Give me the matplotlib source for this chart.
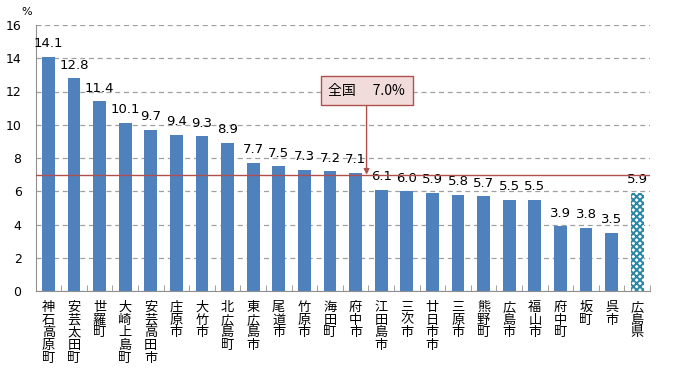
import matplotlib
matplotlib.use("Agg")
import matplotlib.pyplot as plt
import numpy as np

categories = ["神石高原町", "安芸太田町", "世羅町", "大崎上島町", "安芸高田市", "庄原市", "大竹市",
              "北広島町", "東広島市", "尾道市", "竹原市", "海田町", "府中市", "江田島市", "三次市",
              "廿日市市", "三原市", "熊野町", "広島市", "福山市", "府中町", "坂町", "呉市", "広島県"]
values = [14.1, 12.8, 11.4, 10.1, 9.7, 9.4, 9.3, 8.9, 7.7, 7.5, 7.3, 7.2, 7.1, 6.1, 6.0,
          5.9, 5.8, 5.7, 5.5, 5.5, 3.9, 3.8, 3.5, 5.9]
national = 7.0
national_label = "全国　 7.0%"
yticks = [0, 2, 4, 6, 8, 10, 12, 14, 16]

plt.rcParams['font.family'] = ['Noto Sans CJK JP', 'DejaVu Sans']
plt.rcParams['hatch.linewidth'] = 1.4

fig = plt.figure(figsize=(6.81, 3.72), dpi=100)
ax = fig.add_axes([35.5 / 681, 1 - 291 / 372, (650 - 35.5) / 681, (291 - 25) / 372])

x = np.arange(len(categories))
colors = ['#4f81bd'] * (len(values) - 1) + ['white']
bars = ax.bar(x, values, width=0.5, color=colors, zorder=3)
bars[-1].set_hatch('xxxxx')
bars[-1].set_edgecolor('#2a86a8')
bars[-1].set_linewidth(0)

for xi, v in zip(x, values):
    ax.text(xi, v + 0.4, f"{v:.1f}", ha='center', va='bottom', fontsize=9.5, family='DejaVu Sans', zorder=4)

ax.set_xlim(-0.5, len(categories) - 0.5)
ax.set_ylim(0, 16)
ax.set_yticks(yticks)
ax.set_yticklabels([str(t) for t in yticks], fontsize=9, family='DejaVu Sans')
ax.tick_params(axis='y', length=0, pad=10)
ax.yaxis.grid(True, linestyle=(0, (4, 3)), color='#a0a0a0', linewidth=0.9, zorder=0)
ax.set_axisbelow(True)

ax.set_xticks(x)
ax.set_xticklabels(['\n'.join(c) for c in categories], fontsize=9.5, va='top', linespacing=0.98)
ax.tick_params(axis='x', length=0, pad=7)
ax.set_xticks(np.arange(-0.5, len(categories) + 0.5, 1), minor=True)
ax.tick_params(axis='x', which='minor', direction='in', length=4, color='#909090')

for s in ['top', 'right']:
    ax.spines[s].set_visible(False)
for s in ['left', 'bottom']:
    ax.spines[s].set_color('#909090')

ax.axhline(national, color='#b0504d', linewidth=1.0, zorder=5)

ax.annotate(national_label, xy=(12.43, national), xytext=(12.43, 12.06),
            ha='center', va='center', fontsize=10,
            bbox=dict(boxstyle='square,pad=0.55', fc='#f2dcdb', ec='#b0504d', lw=1.0),
            arrowprops=dict(arrowstyle='-|>', color='#b0504d', lw=1.0, shrinkA=0, shrinkB=0,
                            mutation_scale=8),
            zorder=6)

fig.text(27 / 681, 1 - 12 / 372, "%", fontsize=8, ha='center', va='center', family='DejaVu Sans')

fig.savefig("out.png", dpi=100)
